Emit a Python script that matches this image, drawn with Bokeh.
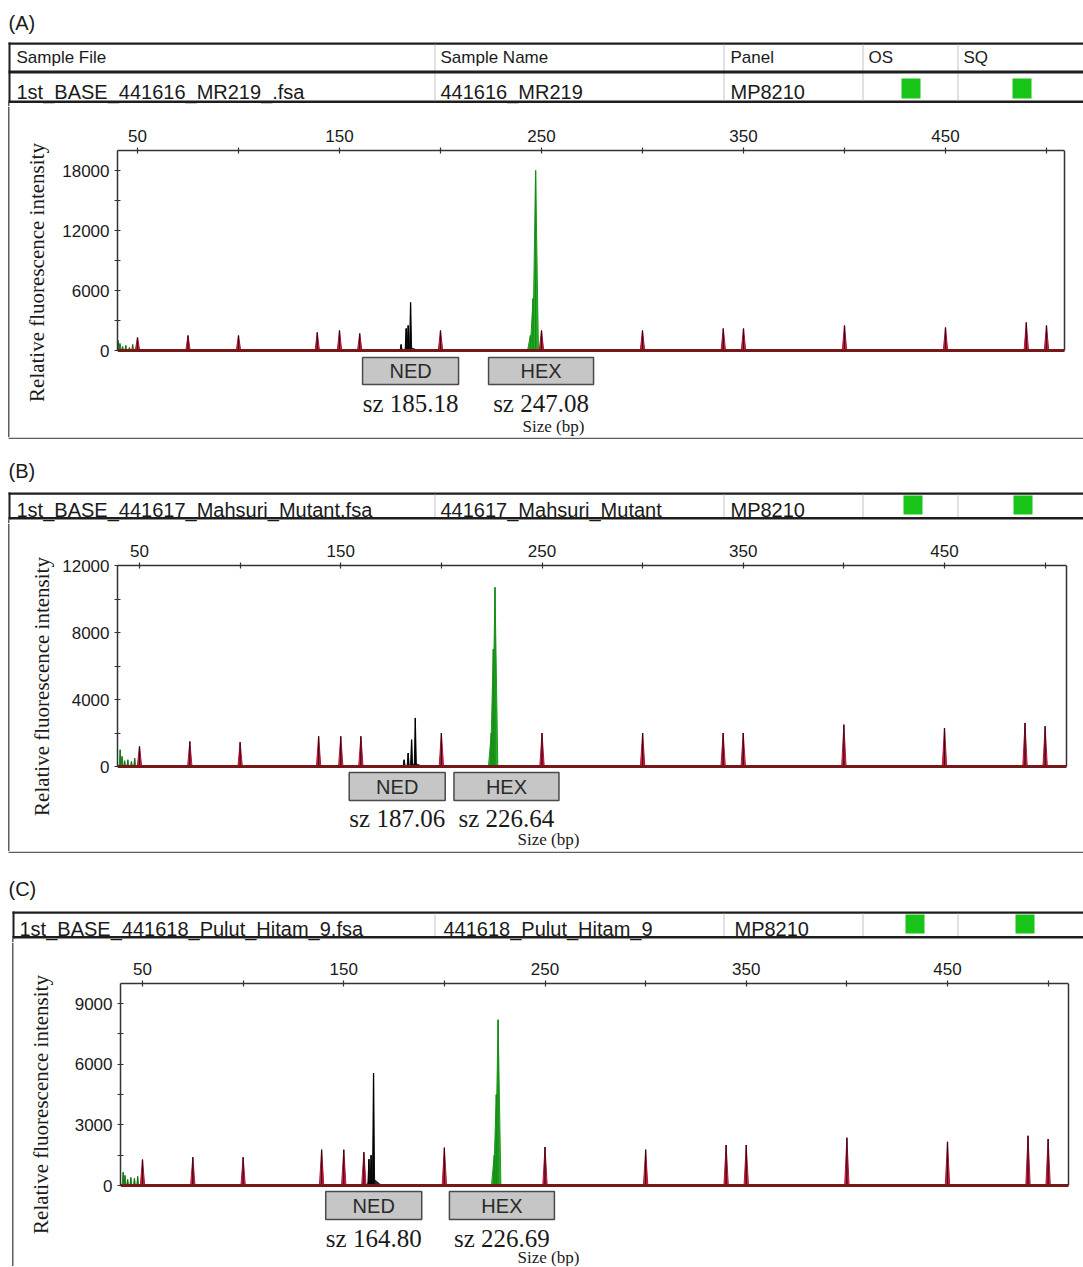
import math
from bokeh.plotting import figure
from bokeh.models import Range1d, FixedTicker
from bokeh.core.properties import value
from bokeh.layouts import column, row
from bokeh.embed import file_html
from bokeh.resources import INLINE

# ---------------- data ----------------
panel_tags = ["(A)", "(B)", "(C)"]
header_cols = ["Sample File", "Sample Name", "Panel", "OS", "SQ"]
sample_files = ["1st_BASE_441616_MR219_.fsa",
                "1st_BASE_441617_Mahsuri_Mutant.fsa",
                "1st_BASE_441618_Pulut_Hitam_9.fsa"]
sample_names = ["441616_MR219", "441617_Mahsuri_Mutant", "441618_Pulut_Hitam_9"]
panel_names = ["MP8210", "MP8210", "MP8210"]

size_ticks = [50, 100, 150, 200, 250, 300, 350, 400, 450, 500]
size_tick_labels = [50, 150, 250, 350, 450]

y_ticks_A = [0, 3000, 6000, 9000, 12000, 15000, 18000]
y_labels_A = [0, 6000, 12000, 18000]
y_ticks_B = [0, 2000, 4000, 6000, 8000, 10000, 12000]
y_labels_B = [0, 4000, 8000, 12000]
y_ticks_C = [0, 1500, 3000, 4500, 6000, 7500, 9000]
y_labels_C = [0, 3000, 6000, 9000]

# size-standard peaks (bp) and their heights per sample
size_std_bp = [50, 75, 100, 139, 150, 160, 200, 250, 300, 340, 350, 400, 450, 490, 500]
size_std_A = [1300, 1500, 1500, 1800, 2000, 1700, 2000, 2000, 2000, 2200, 2200, 2500, 2300, 2800, 2500]
size_std_B = [1200, 1500, 1450, 1800, 1800, 1800, 2000, 2000, 2000, 2000, 2000, 2500, 2300, 2600, 2400]
size_std_C = [1280, 1400, 1400, 1770, 1770, 1650, 1870, 1900, 1770, 2000, 2000, 2360, 2160, 2460, 2300]

# NED (black) peaks
ned_bp_A = [180.5, 183.0, 184.0, 185.18]
ned_h_A = [600, 2200, 2500, 4800]
ned_bp_B = [181.5, 183.5, 185.2, 187.06]
ned_h_B = [400, 800, 1600, 2900]
ned_bp_C = [162.5, 163.6, 164.8]
ned_h_C = [1300, 1500, 5560]

# HEX (green) peaks
hex_bp_A = [244.5, 245.8, 247.08]
hex_h_A = [1500, 5200, 18000]
hex_bp_B = [224.8, 225.8, 226.64]
hex_h_B = [2000, 7000, 10700]
hex_bp_C = [224.8, 225.8, 226.69]
hex_h_C = [1500, 4500, 8200]

# low-size noise (green) near start of the run
noise_bp = [40.4, 41.3, 42.6, 44.2, 46.0, 47.6]
noise_A = [1000, 700, 400, 500, 300, 600]
noise_B = [1000, 600, 350, 400, 300, 500]
noise_C = [650, 500, 300, 400, 350, 450]

# called sizes
ned_sz = [185.18, 187.06, 164.80]
hex_sz = [247.08, 226.64, 226.69]

# ---------------- layout (page pixel geometry) ----------------
W = 1083
LEFT_W = 56
HDR = [
    dict(top=0, h=106, prev_box=None, left=8, tag_y=22, tbl_top=42, sep=70, hdr_y=57,
         row_y=91.5, tbl_bot=100, sq_top=78, sq_bot=98, sq_x=(901, 1012), col_x=(16, 440, 730)),
    dict(top=437, h=86, prev_box=437, left=8, tag_y=470, tbl_top=492, sep=None, hdr_y=None,
         row_y=509.5, tbl_bot=516.5, sq_top=495, sq_bot=514, sq_x=(903, 1013), col_x=(16, 440, 730)),
    dict(top=851, h=91, prev_box=851, left=12, tag_y=888, tbl_top=911, sep=None, hdr_y=None,
         row_y=928.5, tbl_bot=935.5, sq_top=914, sq_bot=933, sq_x=(905, 1015), col_x=(19, 443, 734)),
]
MID = [
    dict(top=106, bot=437, fl=117, rline=1064, ft=150, x50=137, ppb=2.02, y0=350, ypu=0.01,
         left=8, ylab=(36, 272), ned_off=0.0, hex_off=2.7, lab_top=357, lab_bot=384,
         sz_y=403, sizebp=(553, 426)),
    dict(top=523, bot=851, fl=117, rline=1066, ft=565, x50=139, ppb=2.0125, y0=766, ypu=201 / 12000,
         left=8, ylab=(41, 686), ned_off=-9.0, hex_off=5.7, lab_top=772, lab_bot=800,
         sz_y=818, sizebp=(548, 839)),
    dict(top=942, bot=1266, fl=120, rline=1068, ft=983, x50=142, ppb=2.0125, y0=1185, ypu=182 / 9000,
         left=12, ylab=(40, 1104), ned_off=0.1, hex_off=1.9, lab_top=1191, lab_bot=1219,
         sz_y=1238, sizebp=(548, 1257)),
]

SANS = "Liberation Sans"
SERIF = "Liberation Serif"
INK = "#1a1a1a"
BOXGREY = "#5e5e5e"


def no_align(p):
    try:
        p.frame_align = False
    except Exception:
        pass


def page_fig(x0, w, top, h):
    p = figure(width=w, height=h, x_range=Range1d(x0, x0 + w), y_range=Range1d(top + h, top),
               x_axis_location=None, y_axis_location=None, title=None,
               output_backend="svg", toolbar_location=None, tools="",
               min_border=0, min_border_left=0, min_border_right=0,
               min_border_top=0, min_border_bottom=0)
    p.grid.visible = False
    p.outline_line_color = None
    p.background_fill_color = "white"
    p.border_fill_color = "white"
    no_align(p)
    return p


def bar(p, x0, y0, x1, y1, color):
    p.quad(left=[x0], right=[x1], top=[y0], bottom=[y1], fill_color=color, line_color=None)


def txt(p, x, y, s, size, font=SANS, align="left", baseline="middle", angle=0.0, color=INK):
    p.text(x=[x], y=[y], text=[s], text_font=value(font), text_font_size=value(f"{size}px"),
           text_align=align, text_baseline=baseline, angle=angle, text_color=color)


def peaks(p, bp, h, hw, fill, line, core):
    p.patches([[b - hw, b, b + hw] for b in bp], [[0, v, 0] for v in h],
              fill_color=fill, line_color=line, line_width=1)
    p.segment(x0=bp, y0=[0] * len(bp), x1=bp, y1=h, line_color=core, line_width=1.3)


series = [
    (size_std_A, ned_bp_A, ned_h_A, hex_bp_A, hex_h_A, noise_A, y_ticks_A, y_labels_A),
    (size_std_B, ned_bp_B, ned_h_B, hex_bp_B, hex_h_B, noise_B, y_ticks_B, y_labels_B),
    (size_std_C, ned_bp_C, ned_h_C, hex_bp_C, hex_h_C, noise_C, y_ticks_C, y_labels_C),
]

children = []
for i in range(3):
    H = HDR[i]
    M = MID[i]
    std_h, nbp, nh, hbp, hh, noise_h, yt, yl = series[i]

    # ---------- header: tag + sample table ----------
    hp = page_fig(0, W, H['top'], H['h'])
    if H['prev_box'] is not None:
        bar(hp, 8, H['prev_box'], W, H['prev_box'] + 1.5, BOXGREY)
    txt(hp, 8, H['tag_y'], panel_tags[i], 20)
    lx = H['left']
    bar(hp, lx, H['tbl_top'], W, H['tbl_top'] + 2.2, "#1e1e1e")
    bar(hp, lx, H['tbl_bot'], W, H['tbl_bot'] + 2.5, "#1e1e1e")
    bar(hp, lx, H['tbl_top'], lx + 2, H['tbl_bot'] + 2.5, "#1e1e1e")
    bar(hp, lx - 0.5, H['tbl_bot'] + 2.5, lx + 1.0, H['top'] + H['h'], BOXGREY)
    for cx in (434, 723, 862, 957):
        bar(hp, cx, H['tbl_top'] + 2, cx + 1, H['tbl_bot'], "#c4c4c4")
    if H['sep'] is not None:
        bar(hp, lx, H['sep'], W, H['sep'] + 3, "#1e1e1e")
        for cxt, lab in zip((16, 440, 730, 868, 963), header_cols):
            txt(hp, cxt, H['hdr_y'], lab, 17)
    cx1, cx2, cx3 = H['col_x']
    txt(hp, cx1, H['row_y'], sample_files[i], 20)
    txt(hp, cx2, H['row_y'], sample_names[i], 20)
    txt(hp, cx3, H['row_y'], panel_names[i], 20)
    for sx in H['sq_x']:
        bar(hp, sx, H['sq_top'], sx + 19, H['sq_bot'], "#17c417")
    children.append(hp)

    # ---------- left strip: outer box line + y title ----------
    mh = M['bot'] - M['top']
    lp = page_fig(0, LEFT_W, M['top'], mh)
    bar(lp, M['left'] - 0.5, M['top'], M['left'] + 1.0, M['bot'], BOXGREY)
    txt(lp, M['ylab'][0], M['ylab'][1], "Relative fluorescence intensity", 21, font=SERIF,
        align="center", baseline="middle", angle=math.pi / 2)

    # ---------- electropherogram ----------
    fr = M['rline'] + 2
    xs = 50 - (M['x50'] - M['fl']) / M['ppb']
    xe = 50 + (fr - M['x50']) / M['ppb']
    x_rl = 50 + (M['rline'] - M['x50']) / M['ppb']
    ys = (M['y0'] - M['bot']) / M['ypu']
    ye = (M['y0'] - M['ft']) / M['ypu']

    def px(X, M=M):
        return 50 + (X - M['x50']) / M['ppb']

    def py(Y, M=M):
        return (M['y0'] - Y) / M['ypu']

    p = figure(width=W - LEFT_W, height=mh, x_range=Range1d(xs, xe), y_range=Range1d(ys, ye),
               x_axis_location="above", title=None, output_backend="svg",
               toolbar_location=None, tools="",
               min_border_left=M['fl'] - LEFT_W, min_border_right=W - fr,
               min_border_top=M['ft'] - M['top'], min_border_bottom=0)
    no_align(p)
    p.grid.visible = False
    p.outline_line_color = None
    p.background_fill_color = "white"
    p.border_fill_color = "white"

    xa = p.xaxis[0]
    ya = p.yaxis[0]
    for ax in (xa, ya):
        ax.axis_line_color = "#333333"
        ax.axis_line_width = 1.5
        ax.major_tick_line_color = "#333333"
        ax.major_tick_line_width = 1.2
        ax.major_tick_in = 3
        ax.major_tick_out = 3
        ax.minor_tick_line_color = None
        ax.major_label_text_font = SANS
        ax.major_label_text_font_size = "17px"
        ax.major_label_text_color = INK
    xa.ticker = FixedTicker(ticks=size_ticks)
    xa.major_label_overrides = {t: "" for t in size_ticks if t not in size_tick_labels}
    xa.major_label_standoff = 6
    xa.bounds = (xs, x_rl)
    ya.ticker = FixedTicker(ticks=yt)
    ya.major_label_overrides = {t: "" for t in yt if t not in yl}
    ya.major_label_standoff = 5
    ya.bounds = (0, ye)

    # right border of the trace box
    p.segment(x0=[x_rl], y0=[0], x1=[x_rl], y1=[ye], line_color="#333333", line_width=1.5)

    # traces
    peaks(p, noise_bp, noise_h, 0.5, "#2f9e2f", "#2f9e2f", "#1c6e1c")
    peaks(p, size_std_bp, std_h, 1.1, "#d22a50", "#b8163a", "#3a0710")
    peaks(p, [nbp[-1]], [nh[-1] * 0.06], 4.0, "#2a2a2a", "#2a2a2a", "#2a2a2a")
    peaks(p, nbp, nh, 0.55, "#111111", "#111111", "#000000")
    peaks(p, hbp, hh, 1.4, "#25b025", "#1d9a1d", "#178a17")
    p.segment(x0=[xs], y0=[0], x1=[x_rl], y1=[0], line_color="#761818", line_width=3)

    # allele call boxes
    nc = ned_sz[i] + M['ned_off']
    hc = hex_sz[i] + M['hex_off']
    for c, half, lab, sz in ((nc, 48, "NED", ned_sz[i]), (hc, 52.5, "HEX", hex_sz[i])):
        hw = half / M['ppb']
        p.quad(left=[c - hw], right=[c + hw], top=[py(M['lab_top'])], bottom=[py(M['lab_bot'])],
               fill_color="#c6c6c6", line_color="#4a4a4a", line_width=1.5)
        txt(p, c, py((M['lab_top'] + M['lab_bot']) / 2), lab, 20, align="center",
            color="#2a2a2a")
        txt(p, c, py(M['sz_y']), f"sz {sz:.2f}", 25, font=SERIF, align="center")
    txt(p, px(M['sizebp'][0]), py(M['sizebp'][1]), "Size (bp)", 17, font=SERIF, align="center")

    children.append(row(lp, p, spacing=0))

layout = column(*children, spacing=0)
open("out.html", "w").write(file_html(layout, INLINE))
